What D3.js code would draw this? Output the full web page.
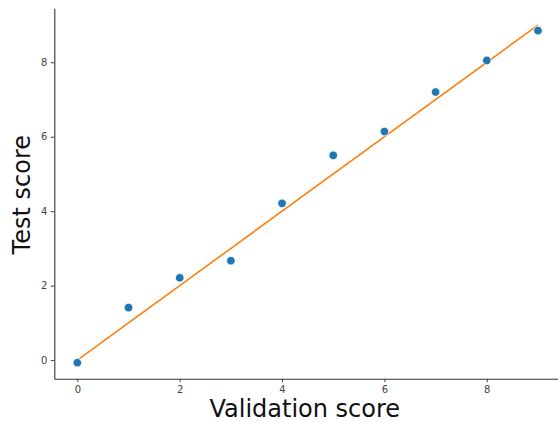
<!DOCTYPE html>
<html>
<head>
<meta charset="utf-8">
<script src="https://cdn.jsdelivr.net/npm/d3@7"></script>
<style>
  body { margin: 0; background: #fff; }
  svg { display: block; font-family: "DejaVu Sans", sans-serif; }
  .tick text { fill: #444; font-size: 10px; }
  .tick line { stroke: #444; }
</style>
</head>
<body>
<svg id="chart"></svg>
<script>
// validation vs test score
var validation = [0, 1, 2, 3, 4, 5, 6, 7, 8, 9];
var test = [-0.07, 1.41, 2.21, 2.67, 4.21, 5.50, 6.14, 7.20, 8.05, 8.85];
var fitLine = [[0, 0], [9, 9]];
var xTicks = [0, 2, 4, 6, 8];
var yTicks = [0, 2, 4, 6, 8];

var width = 558, height = 422;
var margin = {top: 8.3, right: -3, bottom: 43.3, left: 54.3};

var svg = d3.select("#chart")
  .attr("width", width)
  .attr("height", height);

var x = d3.scaleLinear()
  .domain([-0.45, 9.45])
  .range([margin.left, width - margin.right]);

var y = d3.scaleLinear()
  .domain([-0.5, 9.45])
  .range([height - margin.bottom, margin.top]);

// axes, only left and bottom spines
var xAxis = svg.append("g")
  .attr("transform", "translate(0," + (height - margin.bottom) + ")")
  .call(d3.axisBottom(x).tickValues(xTicks).tickSizeInner(3.5).tickSizeOuter(0).tickPadding(3.5).tickFormat(d3.format("d")));

var yAxis = svg.append("g")
  .attr("transform", "translate(" + margin.left + ",0)")
  .call(d3.axisLeft(y).tickValues(yTicks).tickSizeInner(3.5).tickSizeOuter(0).tickPadding(3.5).tickFormat(d3.format("d")));

[xAxis, yAxis].forEach(function(a) {
  a.select(".domain").attr("stroke", "#333").attr("stroke-width", 1.1);
  a.selectAll(".tick text").attr("font-family", "DejaVu Sans");
});

svg.append("path")
  .datum(fitLine)
  .attr("fill", "none")
  .attr("stroke", "#ff7f0e")
  .attr("stroke-width", 1.6)
  .attr("d", d3.line().x(function(d) { return x(d[0]); }).y(function(d) { return y(d[1]); }));

svg.append("g")
  .selectAll("circle")
  .data(validation)
  .enter().append("circle")
    .attr("cx", function(d) { return x(d); })
    .attr("cy", function(d, i) { return y(test[i]); })
    .attr("r", 4.3)
    .attr("fill", "#1f77b4")
    .attr("stroke", "#fff")
    .attr("stroke-width", 0.8);

svg.append("text")
  .attr("x", 304.8)
  .attr("y", 417)
  .attr("text-anchor", "middle")
  .attr("font-size", 24)
  .attr("fill", "#111")
  .text("Validation score");

svg.append("text")
  .attr("transform", "translate(30," + 194.7 + ") rotate(-90)")
  .attr("text-anchor", "middle")
  .attr("font-size", 24)
  .attr("fill", "#111")
  .text("Test score");
</script>
</body>
</html>
